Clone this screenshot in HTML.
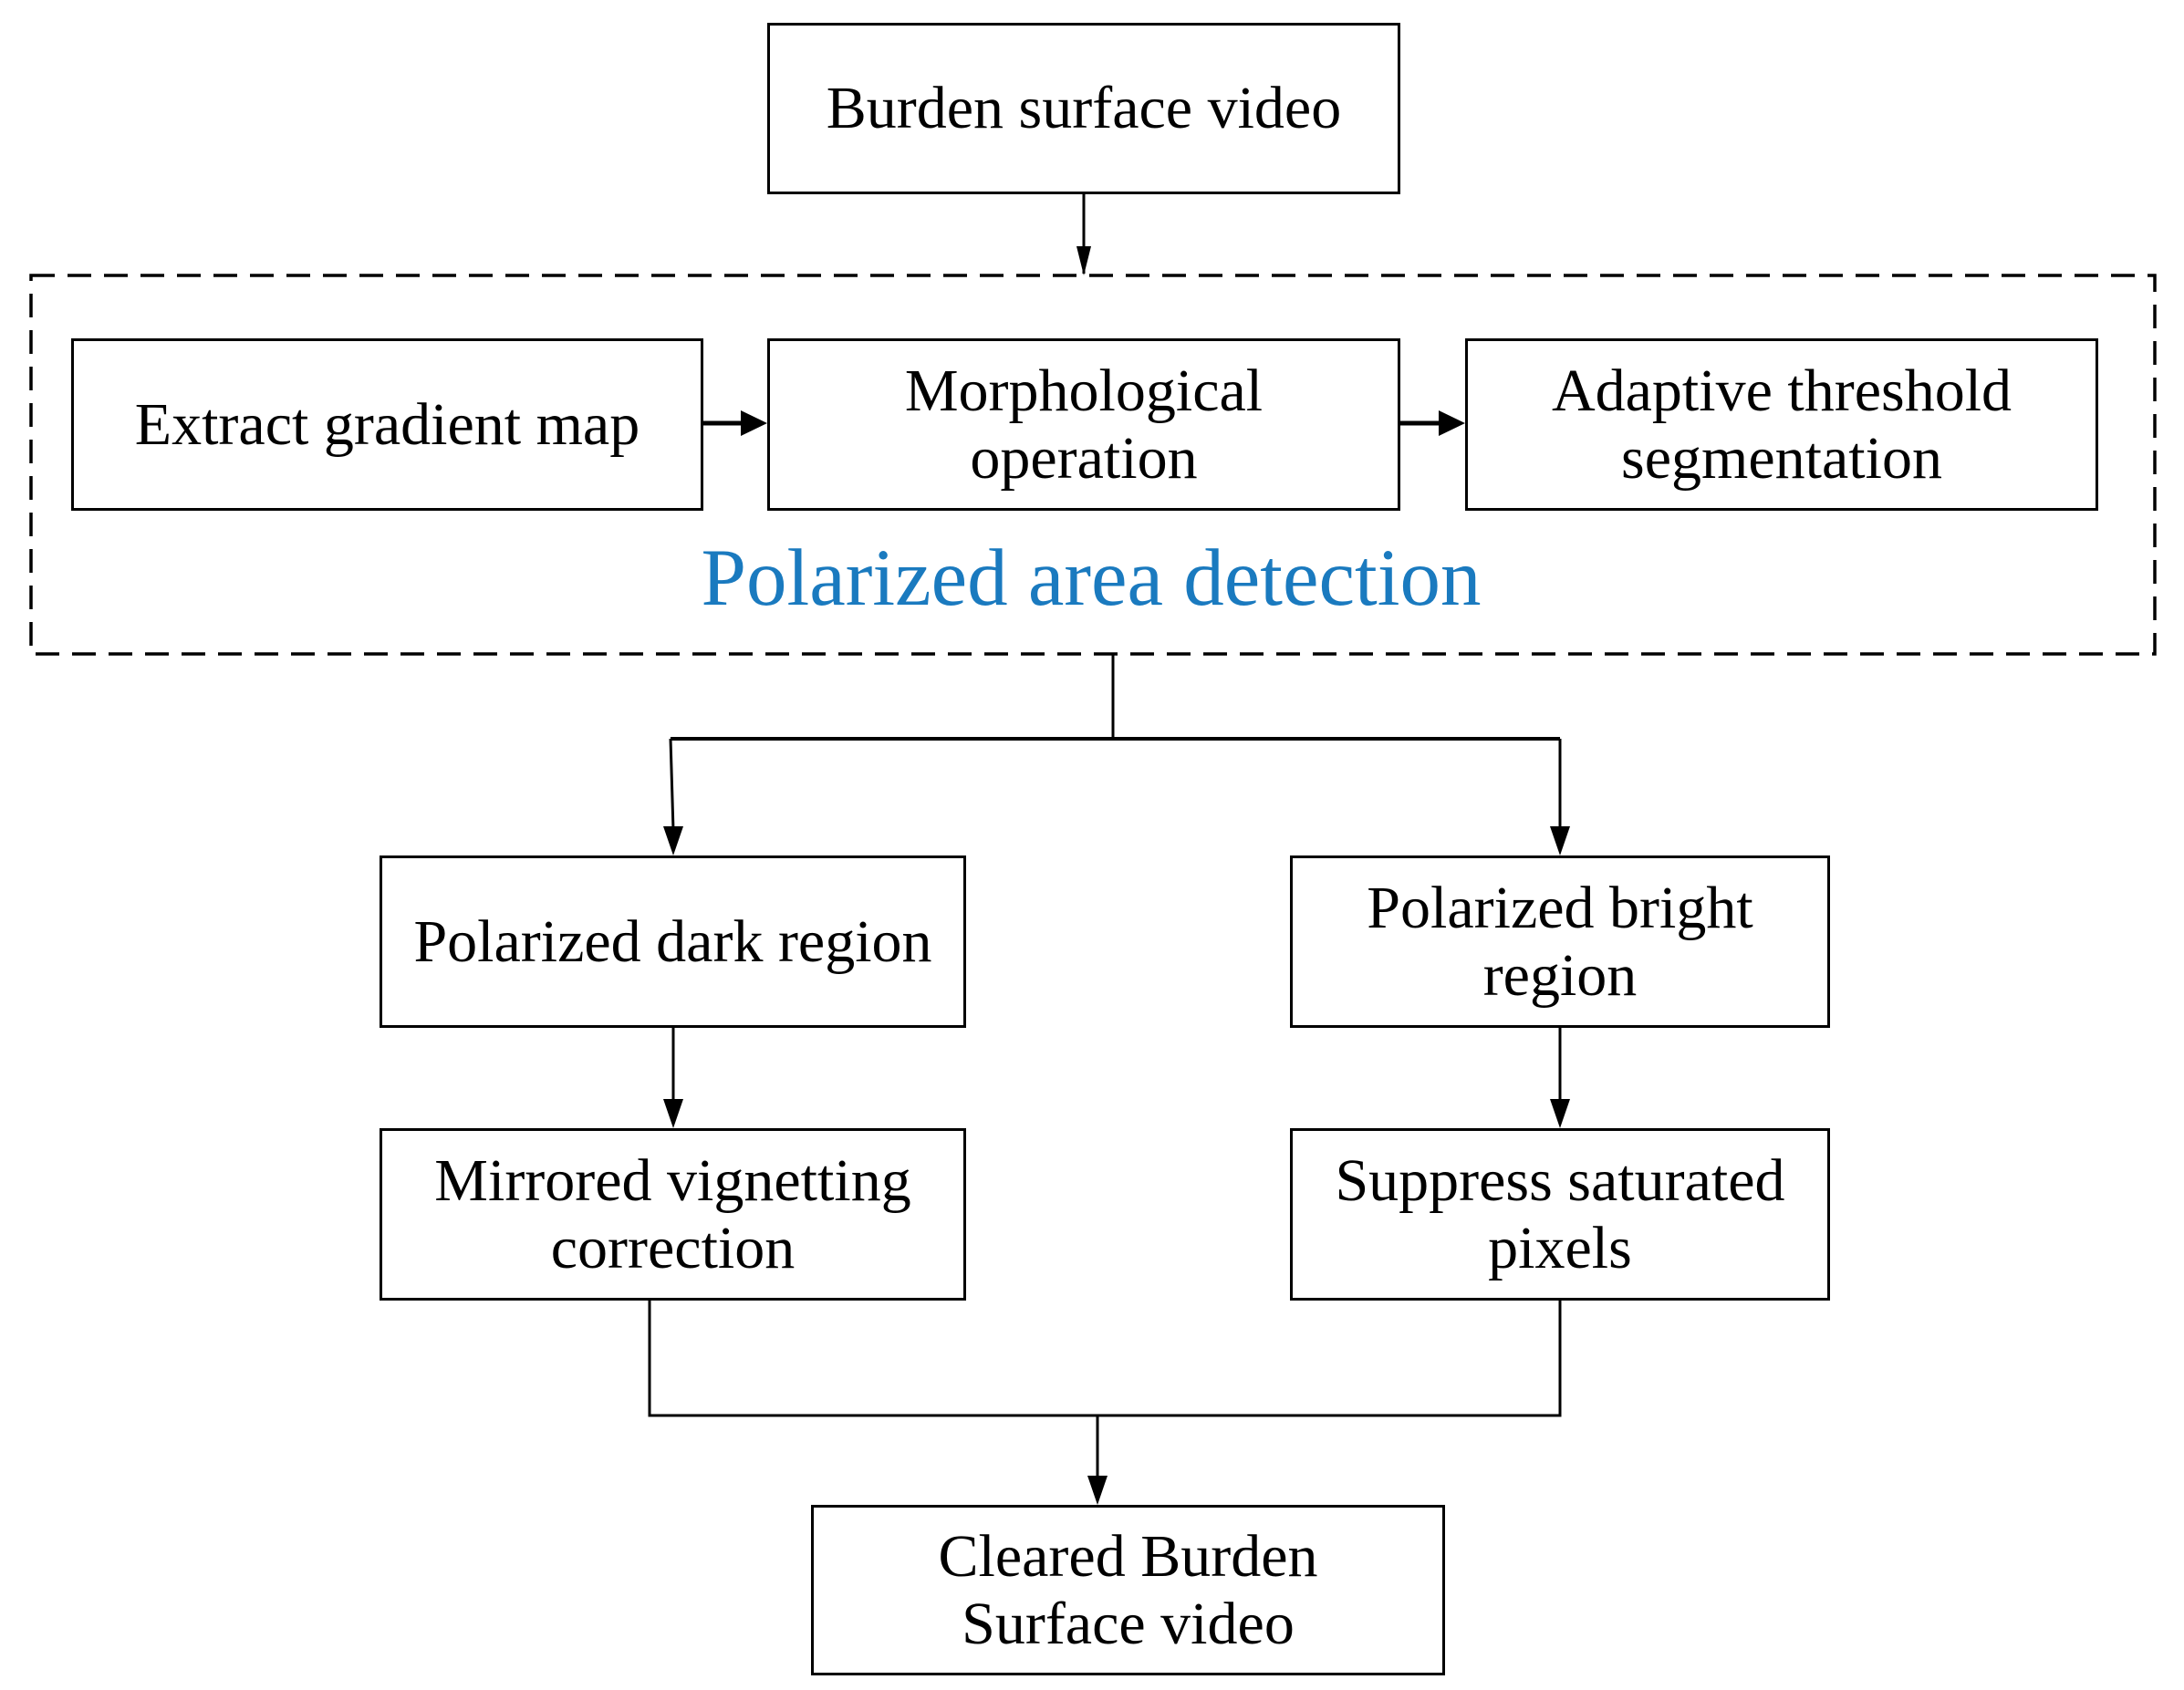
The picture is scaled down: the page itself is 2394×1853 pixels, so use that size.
<!DOCTYPE html>
<html><head><meta charset="utf-8"><style>
html,body{margin:0;padding:0;background:#fff;}
body{width:2394px;height:1853px;position:relative;overflow:hidden;font-family:"Liberation Serif","DejaVu Serif",serif;}
.b{position:absolute;box-sizing:border-box;border:3px solid #000;display:flex;align-items:center;justify-content:center;text-align:center;font-size:66px;line-height:74px;color:#000;background:#fff;white-space:nowrap;}
svg{position:absolute;left:0;top:0;}
</style></head><body>
<svg width="2394" height="1853" viewBox="0 0 2394 1853">
<g stroke="#000" stroke-width="3" fill="none">
<rect x="34" y="302" width="2328" height="415" stroke-dasharray="26,14" stroke-width="3.5"/>
<line x1="1188" y1="213" x2="1188" y2="300"/>
<path d="M1180,270 L1196,270 L1188,302 z" fill="#000" stroke="none"/>
<line x1="771" y1="464" x2="815" y2="464" stroke-width="5"/>
<path d="M812,450 L841,464 L812,478 z" fill="#000" stroke="none"/>
<line x1="1535" y1="464" x2="1580" y2="464" stroke-width="5"/>
<path d="M1577,450 L1606,464 L1577,478 z" fill="#000" stroke="none"/>
<polyline points="1220,717 1220,810"/>
<polyline points="735,810 1710,810" stroke-width="4"/>
<polyline points="735,810 738,910"/>
<path d="M727,906 L749,906 L738,938 z" fill="#000" stroke="none"/>
<line x1="1710" y1="810" x2="1710" y2="910"/>
<path d="M1699,906 L1721,906 L1710,938 z" fill="#000" stroke="none"/>
<line x1="738" y1="1127" x2="738" y2="1210"/>
<path d="M727,1205 L749,1205 L738,1237 z" fill="#000" stroke="none"/>
<line x1="1710" y1="1127" x2="1710" y2="1210"/>
<path d="M1699,1205 L1721,1205 L1710,1237 z" fill="#000" stroke="none"/>
<polyline points="712,1426 712,1552 1710,1552 1710,1426"/>
<line x1="1203" y1="1552" x2="1203" y2="1622"/>
<path d="M1192,1618 L1214,1618 L1203,1650 z" fill="#000" stroke="none"/>
</g>
</svg>
<div class="b" style="left:841px;top:25px;width:694px;height:188px;">Burden surface video</div>
<div class="b" style="left:78px;top:371px;width:693px;height:189px;">Extract gradient map</div>
<div class="b" style="left:841px;top:371px;width:694px;height:189px;">Morphological<br>operation</div>
<div class="b" style="left:1606px;top:371px;width:694px;height:189px;">Adaptive threshold<br>segmentation</div>
<div style="position:absolute;left:500px;width:1392px;top:584px;text-align:center;font-size:89px;line-height:100px;color:#1a7abf;">Polarized area detection</div>
<div class="b" style="left:416px;top:938px;width:643px;height:189px;">Polarized dark region</div>
<div class="b" style="left:1414px;top:938px;width:592px;height:189px;">Polarized bright<br>region</div>
<div class="b" style="left:416px;top:1237px;width:643px;height:189px;">Mirrored vignetting<br>correction</div>
<div class="b" style="left:1414px;top:1237px;width:592px;height:189px;">Suppress saturated<br>pixels</div>
<div class="b" style="left:889px;top:1650px;width:695px;height:187px;">Cleared Burden<br>Surface video</div>
</body></html>
